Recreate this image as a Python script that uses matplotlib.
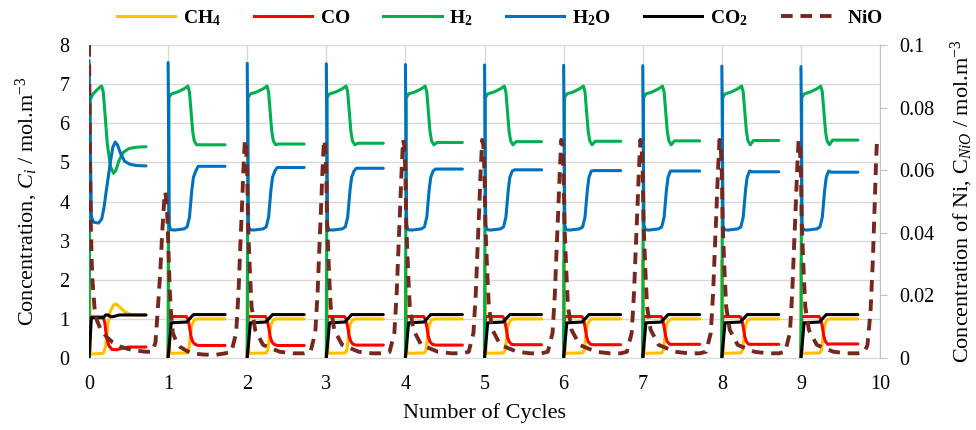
import numpy as np
import matplotlib
matplotlib.use('Agg')
from matplotlib import pyplot as plt
from matplotlib.lines import Line2D
from matplotlib.ticker import FuncFormatter

plt.rcParams['font.family'] = ['Liberation Serif', 'DejaVu Serif']
plt.rcParams['mathtext.fontset'] = 'custom'
plt.rcParams['mathtext.rm'] = 'Liberation Serif'
plt.rcParams['mathtext.it'] = 'Liberation Serif:italic'
plt.rcParams['mathtext.bf'] = 'Liberation Serif:bold'

labels = [r'$\mathbf{CH_4}$', r'$\mathbf{CO}$', r'$\mathbf{H_2}$',
          r'$\mathbf{H_2O}$', r'$\mathbf{CO_2}$', r'$\mathbf{NiO}$']
colors = ['#FFC000', '#FF0000', '#00B050', '#0070C0', '#000000', '#76281F']

# ---- cycle 0 (time within cycle, concentration mol/m3) ----
ch4_0_t = [0, 0.003, 0.02, 0.18, 0.21, 0.24, 0.27, 0.31, 0.34, 0.38, 0.44, 0.5, 0.58, 0.72]
ch4_0 = [0, 2.55, 0.1, 0.12, 0.3, 0.85, 1.2, 1.36, 1.38, 1.32, 1.2, 1.13, 1.1, 1.1]
co_0_t = [0, 0.02, 0.18, 0.2, 0.22, 0.25, 0.29, 0.35, 0.42, 0.5, 0.72]
co_0 = [0, 1.05, 1.05, 0.9, 0.55, 0.32, 0.22, 0.21, 0.25, 0.28, 0.28]
h2_0_t = [0, 0.015, 0.05, 0.1, 0.14, 0.16, 0.18, 0.2, 0.23, 0.27, 0.31, 0.34, 0.38, 0.43, 0.5, 0.6, 0.72]
h2_0 = [0, 6.6, 6.75, 6.85, 6.93, 6.95, 6.8, 6.3, 5.5, 4.9, 4.72, 4.8, 5.05, 5.25, 5.35, 5.39, 5.4]
h2o_0_t = [0, 0.03, 0.06, 0.12, 0.16, 0.19, 0.22, 0.27, 0.3, 0.33, 0.36, 0.4, 0.45, 0.52, 0.6, 0.72]
h2o_0 = [7.6, 3.6, 3.47, 3.45, 3.55, 3.85, 4.3, 5.0, 5.38, 5.52, 5.45, 5.22, 5.03, 4.95, 4.92, 4.91]
co2_0_t = [0, 0.03, 0.18, 0.21, 0.24, 0.28, 0.33, 0.38, 0.45, 0.72]
co2_0 = [0, 1.03, 1.03, 1.1, 1.1, 1.05, 1.07, 1.1, 1.1, 1.1]

# ---- cycles 1-9 (repeating profile) ----
ch4_t = [0, 0.003, 0.02, 0.24, 0.26, 0.28, 0.3, 0.33, 0.37, 0.72]
ch4 = [0, 2.5, 0.12, 0.13, 0.2, 0.55, 0.85, 0.97, 1.0, 1.0]
co_t = [0, 0.01, 0.23, 0.25, 0.27, 0.29, 0.31, 0.34, 0.38, 0.72]
co = [0, 1.06, 1.06, 1.0, 0.8, 0.55, 0.42, 0.35]
co_end = [0.32, 0.32, 0.33, 0.33, 0.34, 0.34, 0.35, 0.35, 0.36]
h2_t = [0, 0.01, 0.04, 0.12, 0.2, 0.25, 0.27, 0.29, 0.31, 0.33, 0.36, 0.4, 0.72]
h2 = [0, 6.65, 6.75, 6.8, 6.88, 6.95, 6.8, 6.3, 5.8, 5.55, 5.45]
h2_end = [5.45, 5.47, 5.49, 5.51, 5.53, 5.54, 5.55, 5.56, 5.57]
h2o_t = [0, 0.015, 0.03, 0.08, 0.2, 0.24, 0.27, 0.3, 0.32, 0.35, 0.38, 0.45, 0.72]
h2o = [3.4, 3.28, 3.27, 3.3, 3.35, 3.6, 4.3, 4.62, 4.78]
h2o_start = [7.55, 7.53, 7.52, 7.5, 7.49, 7.48, 7.47, 7.46, 7.45]
h2o_end = [4.9, 4.87, 4.85, 4.83, 4.81, 4.79, 4.78, 4.76, 4.75]
co2_t = [0, 0.04, 0.235, 0.32, 0.72]
co2 = [0, 0.9, 0.92, 1.11, 1.11]

# ---- NiO (right axis) ----
nio_0_t = [0, 0.01, 0.02, 0.04, 0.07, 0.1, 0.15, 0.22, 0.3, 0.4, 0.55, 0.72]
nio_0 = [0.1, 0.07, 0.045, 0.026, 0.016, 0.012, 0.009, 0.0068, 0.005, 0.0036, 0.0025, 0.002]
nio_1_t = [-0.2, -0.16, -0.14, -0.1, -0.075, -0.05, -0.035, -0.015, 0, 0.02, 0.04, 0.06,
           0.1, 0.15, 0.22, 0.3, 0.45, 0.6, 0.72]
nio_1 = [0.002, 0.005, 0.012, 0.027, 0.04, 0.05, 0.053, 0.048, 0.038, 0.022, 0.013, 0.008,
         0.0055, 0.0036, 0.0025, 0.0015, 0.0011, 0.001, 0.0015]
nio_n_t = [-0.2, -0.14, -0.11, -0.09, -0.07, -0.05, -0.03, -0.015, 0, 0.01, 0.035, 0.055,
           0.1, 0.2, 0.41, 0.58, 0.72]
nio_n = [0.002, 0.008, 0.021, 0.034, 0.046, 0.059, 0.0697, 0.068, 0.059, 0.043, 0.027, 0.0164,
         0.009, 0.0042, 0.002, 0.0015, 0.0015]
nio_last_t = [-0.2, -0.16, -0.12, -0.09, -0.07, -0.05, -0.04]
nio_last = [0.002, 0.004, 0.015, 0.032, 0.048, 0.063, 0.069]


def join(segments):
    xs, ys = [], []
    for x, y in segments:
        xs += list(x) + [np.nan]
        ys += list(y) + [np.nan]
    return np.array(xs), np.array(ys)


gas = []
segs = [(ch4_0_t, ch4_0)] + [(np.add(ch4_t, n), ch4) for n in range(1, 10)]
gas.append(join(segs))
segs = [(co_0_t, co_0)] + [(np.add(co_t, n), co + [co_end[n - 1]] * 2) for n in range(1, 10)]
gas.append(join(segs))
segs = [(h2_0_t, h2_0)] + [(np.add(h2_t, n), h2 + [h2_end[n - 1]] * 2) for n in range(1, 10)]
gas.append(join(segs))
segs = [(h2o_0_t, h2o_0)] + [(np.add(h2o_t, n), [h2o_start[n - 1]] + h2o + [h2o_end[n - 1]] * 3)
                             for n in range(1, 10)]
gas.append(join(segs))
segs = [(co2_0_t, co2_0)] + [(np.add(co2_t, n), co2) for n in range(1, 10)]
gas.append(join(segs))

nio_x = list(nio_0_t) + list(np.add(nio_1_t, 1))
nio_y = list(nio_0) + list(nio_1)
for n in range(2, 10):
    nio_x += list(np.add(nio_n_t, n))
    nio_y += nio_n
nio_x += list(np.add(nio_last_t, 10))
nio_y += nio_last

fig = plt.figure(figsize=(9.76, 4.3), dpi=100)
ax = fig.add_axes([0.0912, 0.1674, 0.8105, 0.7279])
for (x, y), c in zip(gas, colors[:5]):
    ax.plot(x, y, c=c, lw=2.2, solid_capstyle='round')
ax.set_xlim(0, 10)
ax.set_ylim(0, 8)
ax.set_xticks(range(11))
ax.set_yticks(range(9))
ax.grid(True, color='#D9D9D9', lw=1)
ax.set_axisbelow(True)
for s in ['left', 'top', 'right']:
    ax.spines[s].set_visible(False)
ax.spines['bottom'].set_color('#D9D9D9')
ax.tick_params(axis='both', length=0, labelsize=14.5)
ax.tick_params(axis='y', pad=14)
ax.tick_params(axis='x', pad=12)
ax.set_xlabel('Number of Cycles', fontsize=16, labelpad=7)
ax.set_ylabel(r'Concentration, $C_i$ / mol.m$^{\mathregular{-3}}$', fontsize=16)
ax.yaxis.set_label_coords(-0.062, 0.5)

ax2 = ax.twinx()
ax2.plot(nio_x, nio_y, c=colors[5], lw=2.8, dashes=(3, 2), dash_capstyle='butt')
ax2.set_ylim(0, 0.1)
ax2.set_yticks([0, 0.02, 0.04, 0.06, 0.08, 0.1])
ax2.yaxis.set_major_formatter(FuncFormatter(lambda v, p: '%g' % round(v, 3)))
for s in ['left', 'top', 'bottom']:
    ax2.spines[s].set_visible(False)
ax2.spines['right'].set_color('#BFBFBF')
ax2.tick_params(axis='y', length=5, color='#BFBFBF', labelsize=14.5, pad=9)
ax2.set_ylabel(r'Concentration of Ni, C$_{NiO}$ / mol.m$^{\mathregular{-3}}$', fontsize=16, labelpad=10)

handles = [Line2D([], [], c=c, lw=2.2) for c in colors[:5]]
handles.append(Line2D([], [], c=colors[5], lw=2.8, dashes=(3, 2), dash_capstyle='butt'))
fig.legend(handles, labels, loc='center', bbox_to_anchor=(0.512, 0.958), ncol=6,
           frameon=False, handlelength=3, columnspacing=1.7, handletextpad=0.4,
           prop={'size': 14, 'weight': 'bold'})

fig.savefig('out.png', dpi=100)
